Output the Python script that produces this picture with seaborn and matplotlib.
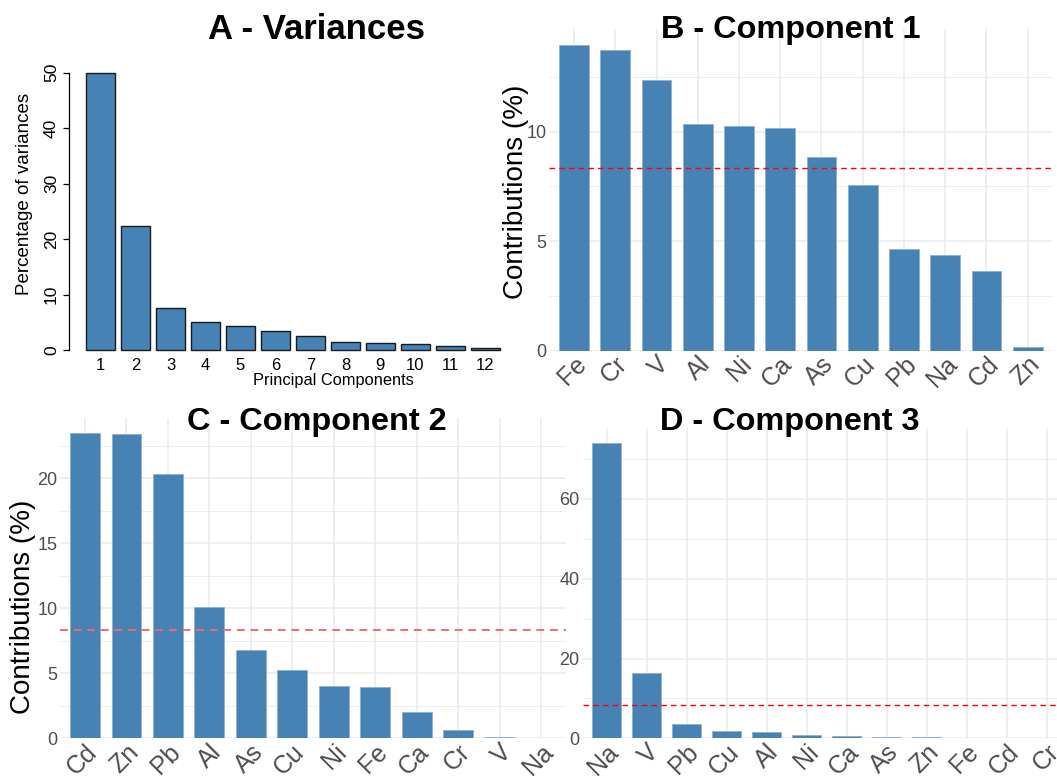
import matplotlib
matplotlib.use('Agg')
import matplotlib.pyplot as plt
import seaborn as sns
import pandas as pd
from matplotlib.ticker import MultipleLocator

sns.set_theme(style='white')
plt.rcParams['font.family'] = ['Liberation Sans', 'DejaVu Sans']
plt.rcParams['text.color'] = 'black'

# ---------------- data ----------------
pcs = ['1', '2', '3', '4', '5', '6', '7', '8', '9', '10', '11', '12']
variances = [50.0, 22.4, 7.6, 5.1, 4.4, 3.4, 2.5, 1.5, 1.3, 1.0, 0.8, 0.3]

comp1_vars = ['Fe', 'Cr', 'V', 'Al', 'Ni', 'Ca', 'As', 'Cu', 'Pb', 'Na', 'Cd', 'Zn']
comp1_vals = [13.98, 13.72, 12.37, 10.33, 10.28, 10.15, 8.85, 7.55, 4.66, 4.35, 3.62, 0.17]

comp2_vars = ['Cd', 'Zn', 'Pb', 'Al', 'As', 'Cu', 'Ni', 'Fe', 'Ca', 'Cr', 'V', 'Na']
comp2_vals = [23.5, 23.4, 20.3, 10.1, 6.8, 5.25, 4.0, 3.95, 2.0, 0.6, 0.1, 0.03]

comp3_vars = ['Na', 'V', 'Pb', 'Cu', 'Al', 'Ni', 'Ca', 'As', 'Zn', 'Fe', 'Cd', 'Cr']
comp3_vals = [74.0, 16.3, 3.6, 1.9, 1.5, 0.85, 0.7, 0.45, 0.3, 0.2, 0.2, 0.05]

titles = ['A - Variances', 'B - Component 1', 'C - Component 2', 'D - Component 3']
ylab_var = 'Percentage of variances'
xlab_var = 'Principal Components'
ylab_contrib = 'Contributions (%)'

BAR = '#4682B4'
GRID = '#EBEBEB'
TXT = '#4D4D4D'

W, H = 1057, 778
fig = plt.figure(figsize=(W / 100, H / 100), dpi=100)
fig.patch.set_facecolor('white')


def px_axes(left, top, right, bottom):
    return fig.add_axes([left / W, 1 - bottom / H, (right - left) / W, (bottom - top) / H])


def ftext(x, y, s, **kw):
    return fig.text(x / W, 1 - y / H, s, **kw)


# ---------------- Panel A (base-R style scree plot) ----------------
axA = px_axes(69.3, 72.7, 505, 350)
sns.barplot(x=pcs, y=variances, order=pcs, color=BAR, saturation=1, width=0.83,
            edgecolor='#1a1a1a', linewidth=1.0, ax=axA)
for p in axA.patches:
    p.set_clip_on(False)
axA.set_xlim(-0.892, 11.56)
axA.set_ylim(0, 50)
axA.set_xlabel('')
axA.set_ylabel('')
for s in ['top', 'right', 'bottom']:
    axA.spines[s].set_visible(False)
axA.spines['left'].set_color('black')
axA.spines['left'].set_linewidth(0.9)
axA.set_yticks([0, 10, 20, 30, 40, 50])
axA.tick_params(axis='y', which='major', left=True, direction='out', length=4.5,
                width=0.9, color='black', labelsize=12.5, labelcolor='black', pad=3)
axA.tick_params(axis='x', length=0, labelsize=12, labelcolor='black', pad=6)
plt.setp(axA.get_yticklabels(), rotation=90, va='center')
axA.grid(False)
ftext(25, 194, ylab_var, rotation=90, ha='center', va='center', fontsize=13.5, color='black')
ftext(333, 381, xlab_var, ha='center', va='center', fontsize=11.8, color='black')
ftext(316, 39.3, titles[0], ha='center', va='baseline', fontsize=25, fontweight='bold',
      color='black')


# ---------------- contribution panels (ggplot theme_minimal style) ----------------
def contrib_panel(ax, cats, vals, step, line_color, line_w):
    n = len(cats)
    df = pd.DataFrame({'variable': cats, 'contrib': vals})
    sns.barplot(data=df, x='variable', y='contrib', order=cats, color=BAR, saturation=1,
                width=0.72, edgecolor='#8DB1D4', linewidth=0.6, ax=ax, zorder=3)
    ax.set_xlim(-0.6, n - 1 + 0.6)
    ax.set_ylim(0, max(vals) * 1.05)
    ax.axhline(100 / n, color=line_color, ls=(0, (4, 3)), lw=line_w, zorder=4)
    ax.set_xlabel('')
    ax.set_ylabel('')
    for s in ax.spines.values():
        s.set_visible(False)
    ax.yaxis.set_major_locator(MultipleLocator(step))
    ax.yaxis.set_minor_locator(MultipleLocator(step / 2))
    ax.set_axisbelow(True)
    ax.grid(True, which='major', axis='both', color=GRID, lw=1.1)
    ax.grid(True, which='minor', axis='y', color=GRID, lw=0.6)
    ax.tick_params(axis='both', which='both', length=0)
    ax.tick_params(axis='y', labelsize=13, labelcolor=TXT, pad=2)
    ax.tick_params(axis='x', labelsize=18, labelcolor=TXT, pad=1)
    plt.setp(ax.get_xticklabels(), rotation=45, ha='right', va='top', rotation_mode='anchor')


# Panel B
axB = px_axes(549.3, 29.2, 1052.4, 350.7)
contrib_panel(axB, comp1_vars, comp1_vals, 5, 'red', 1.0)
ftext(516, 192, ylab_contrib, rotation=90, ha='center', va='center', fontsize=20, color='black')
ftext(791, 38.3, titles[1], ha='center', va='baseline', fontsize=23.4, fontweight='bold',
      color='black')

# Panel C
axC = px_axes(60.1, 417.5, 565.9, 738.3)
contrib_panel(axC, comp2_vars, comp2_vals, 5, '#F26B6E', 1.4)
ftext(23, 606.5, ylab_contrib, rotation=90, ha='center', va='center', fontsize=20, color='black')
ftext(316.5, 430, titles[2], ha='center', va='baseline', fontsize=23.4, fontweight='bold',
      color='black')

# Panel D (cut at the right edge, as in the composite)
axD = px_axes(582.5, 428.3, 1070.5, 738.3)
contrib_panel(axD, comp3_vars, comp3_vals, 20, 'red', 1.0)
ftext(790, 430, titles[3], ha='center', va='baseline', fontsize=23.4, fontweight='bold',
      color='black')

fig.savefig('out.png', dpi=100, facecolor='white')
